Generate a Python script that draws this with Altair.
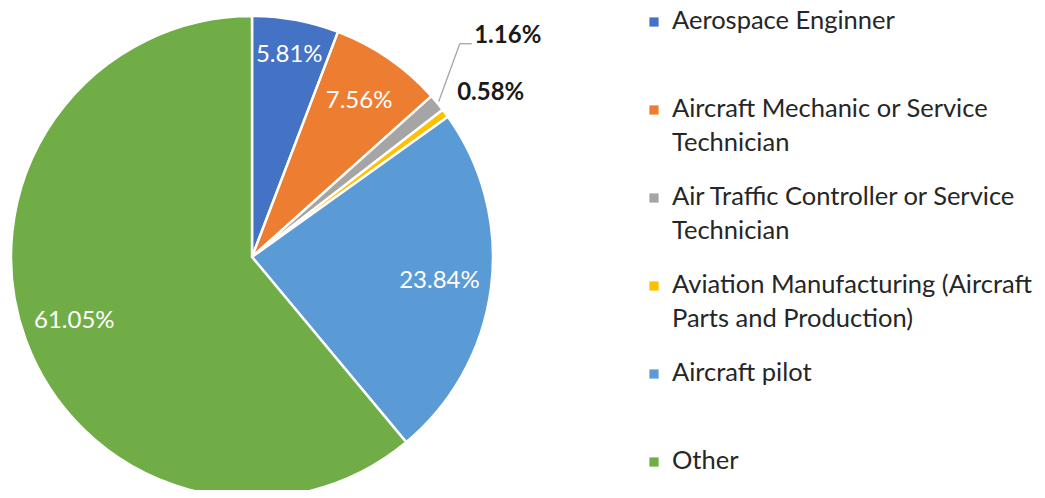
import altair as alt
import pandas as pd

categories = [
    "Aerospace Enginner",
    "Aircraft Mechanic or Service Technician",
    "Air Traffic Controller or Service Technician",
    "Aviation Manufacturing (Aircraft Parts and Production)",
    "Aircraft pilot",
    "Other",
]
legend_labels = [
    "Aerospace Enginner",
    "Aircraft Mechanic or Service\nTechnician",
    "Air Traffic Controller or Service\nTechnician",
    "Aviation Manufacturing (Aircraft\nParts and Production)",
    "Aircraft pilot",
    "Other",
]
values = [5.81, 7.56, 1.16, 0.58, 23.84, 61.05]
pct_labels = ["5.81%", "7.56%", "1.16%", "0.58%", "23.84%", "61.05%"]
colors = ["#4472C4", "#ED7D31", "#A5A5A5", "#FFC000", "#5B9BD5", "#70AD47"]

df = pd.DataFrame({
    "cat": categories,
    "legend": legend_labels,
    "value": values,
    "pct": pct_labels,
    "idx": list(range(len(categories))),
})

CX, CY, R = 244, 249, 241
FONT = "Lato"

base = alt.Chart(df).transform_window(
    cum="sum(value)", sort=[alt.SortField("idx")], frame=[None, 0]
).transform_joinaggregate(total="sum(value)").transform_calculate(
    ang="(datum.cum - datum.value/2) / datum.total * 2 * PI"
)

color = alt.Color("cat:N", scale=alt.Scale(domain=categories, range=colors), legend=None)

pie = alt.Chart(df).mark_arc(stroke="white", strokeWidth=2.5, outerRadius=R).encode(
    theta=alt.Theta("value:Q", stack=True),
    order=alt.Order("idx:Q"),
    color=color,
    x=alt.value(CX),
    y=alt.value(CY),
)

inside = base.transform_filter("datum.value >= 5").transform_calculate(
    rr="datum.value < 7 ? 205 : 189"
).transform_calculate(
    lx=f"{CX} + datum.rr * sin(datum.ang)", ly=f"{CY} - datum.rr * cos(datum.ang)"
).mark_text(font=FONT, fontSize=24, color="white", align="center", baseline="middle").encode(
    x=alt.X("lx:Q", scale=None), y=alt.Y("ly:Q", scale=None), text="pct:N"
)

small = base.transform_filter("datum.value < 5").transform_calculate(
    lx=f"{CX} + 338 * sin(datum.ang)", ly=f"{CY} - 338 * cos(datum.ang)"
)

out_a = small.transform_filter("datum.value > 1").mark_text(
    font=FONT, fontSize=24, fontWeight="bold", color="#1a1a1a", align="center", baseline="middle", dx=-4, dy=-5
).encode(x=alt.X("lx:Q", scale=None), y=alt.Y("ly:Q", scale=None), text="pct:N")

out_b = base.transform_filter("datum.value < 1").transform_calculate(
    lx=f"{CX} + 300 * sin(datum.ang)", ly=f"{CY} - 300 * cos(datum.ang)"
).mark_text(
    font=FONT, fontSize=24, fontWeight="bold", color="#1a1a1a", align="center", baseline="middle", dx=-2, dy=15
).encode(x=alt.X("lx:Q", scale=None), y=alt.Y("ly:Q", scale=None), text="pct:N")

leader_pts = small.transform_filter("datum.value > 1").transform_calculate(
    sx=f"{CX} + {R + 2} * sin(datum.ang)", sy=f"{CY} - {R + 2} * cos(datum.ang)",
    ex="datum.lx - 52", ey="datum.ly + 3", fx="datum.lx - 40",
)
leader1 = leader_pts.mark_rule(color="#A5A5A5", strokeWidth=1.3).encode(
    x=alt.X("sx:Q", scale=None), y=alt.Y("sy:Q", scale=None),
    x2="ex:Q", y2="ey:Q",
)
leader2 = leader_pts.mark_rule(color="#A5A5A5", strokeWidth=1.3).encode(
    x=alt.X("ex:Q", scale=None), y=alt.Y("ey:Q", scale=None),
    x2="fx:Q", y2="ey:Q",
)

leg_y = alt.Y("cat:N", scale=alt.Scale(domain=categories, range=[21, 461], type="point", padding=0), axis=None)
leg_sym = alt.Chart(df).mark_square(size=85, opacity=1).encode(
    x=alt.value(646), y=leg_y, yOffset=alt.value(-7), color=color
)
leg_txt = alt.Chart(df).mark_text(
    font=FONT, fontSize=25.5, color="#262626", align="left", baseline="alphabetic", lineBreak="\n", lineHeight=34
).encode(x=alt.value(664), y=leg_y, text="legend:N")

chart = alt.layer(pie, inside, leader1, leader2, out_a, out_b, leg_sym, leg_txt).properties(
    width=1029, height=482, padding=0, autosize="none"
).configure_view(stroke=None)

chart.save("out.html", embed_options={"renderer": "svg", "actions": False})
